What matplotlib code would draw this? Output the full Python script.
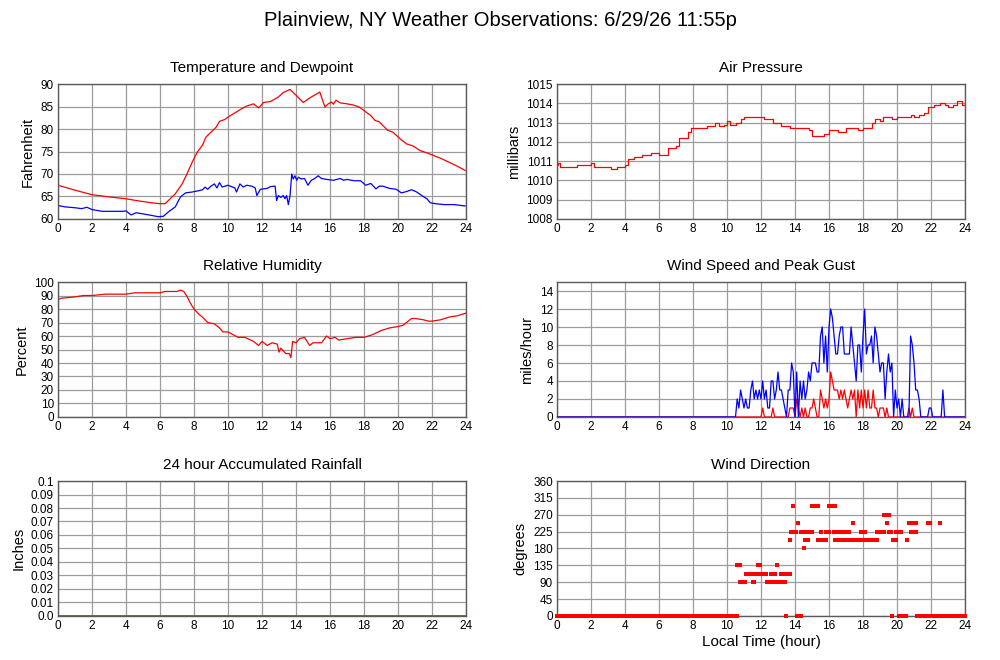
import matplotlib
import matplotlib.pyplot as plt
import numpy as np

matplotlib.use("Agg")

# temperature and dewpoint (F)
temp_t = [0, 1, 2, 3, 4, 4.6, 5.5, 6.0, 6.3, 6.6,
          6.9, 7.3, 7.6, 7.9, 8.2, 8.5, 8.7, 9.0, 9.3, 9.5,
          9.8, 10.1, 10.5, 10.8, 11.1, 11.5, 11.8, 12.1, 12.5, 12.96,
          13.25, 13.65, 13.84, 14.43, 14.8, 15.4, 15.7, 15.9, 16.1, 16.2,
          16.35, 16.6, 17.0, 17.4, 17.7, 18.0, 18.4, 18.65, 18.9, 19.1,
          19.4, 19.7, 20.1, 20.5, 20.9, 21.3, 21.7, 22.1, 22.5, 22.9,
          23.45, 23.95]
temp = [67.5, 66.4, 65.4, 64.9, 64.5, 64.1, 63.6, 63.4, 63.4, 64.5,
        65.6, 67.8, 70.1, 72.7, 74.9, 76.4, 78.2, 79.3, 80.4, 81.7,
        82.1, 82.9, 83.8, 84.5, 85.1, 85.6, 84.7, 85.9, 86.1, 87.1,
        88.1, 88.8, 88.1, 85.9, 86.9, 88.2, 84.9, 85.6, 86.0, 85.5,
        86.4, 85.8, 85.6, 85.3, 84.9, 84.1, 83.0, 81.9, 81.6, 80.8,
        79.7, 79.3, 77.9, 76.7, 76.2, 75.2, 74.7, 74.1, 73.5, 72.8,
        71.8, 70.8]

dew_t = [0, 0.4, 1.0, 1.4, 1.7, 2.0, 2.6, 3.2, 3.8, 4.0,
         4.3, 4.6, 4.9, 5.5, 5.9, 6.2, 6.5, 6.9, 7.2, 7.5,
         7.9, 8.3, 8.5, 8.65, 8.8, 9.0, 9.2, 9.35, 9.5, 9.65,
         10.0, 10.4, 10.5, 10.7, 10.9, 11.1, 11.4, 11.6, 11.7, 11.9,
         12.3, 12.5, 12.77, 12.86, 12.96, 13.1, 13.25, 13.35, 13.45, 13.55,
         13.65, 13.75, 13.84, 13.94, 14.04, 14.14, 14.3, 14.5, 14.7, 14.9,
         15.1, 15.3, 15.5, 15.8, 16.2, 16.6, 16.8, 17.0, 17.4, 17.8,
         18.1, 18.4, 18.7, 18.9, 19.1, 19.5, 19.9, 20.2, 20.5, 20.8,
         21.1, 21.4, 21.7, 21.9, 22.2, 22.7, 23.3, 23.95]
dew = [63.0, 62.7, 62.5, 62.3, 62.6, 62.1, 61.7, 61.7, 61.7, 61.8,
       60.9, 61.4, 61.2, 60.8, 60.5, 60.6, 61.6, 62.7, 64.9, 65.8,
       66.0, 66.3, 66.5, 67.1, 66.6, 67.3, 67.8, 66.9, 68.1, 67.1,
       67.5, 66.9, 66.0, 67.8, 67.1, 67.5, 67.3, 66.9, 65.2, 66.6,
       66.8, 67.2, 67.3, 64.1, 65.2, 64.8, 65.2, 64.5, 65.2, 63.2,
       65.2, 70.0, 68.9, 69.6, 68.6, 69.3, 68.9, 69.0, 67.5, 68.6,
       69.0, 69.6, 69.0, 68.8, 68.6, 69.0, 68.6, 68.8, 68.5, 68.5,
       67.5, 67.9, 66.7, 67.3, 67.3, 66.8, 66.6, 65.8, 66.1, 66.5,
       66.0, 65.2, 64.5, 63.6, 63.4, 63.2, 63.2, 62.9]

# air pressure (mb), level starting at each time
pres_t = [0.0, 0.05, 0.2, 1.2, 2.0, 2.2, 3.2, 3.5, 4.0, 4.2,
          4.5, 5.0, 5.5, 6.0, 6.5, 7.0, 7.2, 7.7, 7.9, 8.8,
          9.3, 9.5, 9.8, 10.0, 10.2, 10.5, 10.8, 11.0, 12.2, 12.7,
          13.2, 13.7, 14.8, 15.0, 15.7, 16.0, 16.5, 17.0, 17.7, 18.0,
          18.5, 18.7, 19.0, 19.2, 19.7, 20.0, 20.8, 21.0, 21.3, 21.6,
          21.8, 22.2, 22.5, 22.8, 23.0, 23.3, 23.5, 23.8, 24.0]
pres = [1010.8, 1010.9, 1010.7, 1010.8, 1010.9, 1010.7, 1010.6, 1010.7, 1010.8, 1011.1,
        1011.2, 1011.3, 1011.4, 1011.3, 1011.7, 1011.8, 1012.2, 1012.5, 1012.7, 1012.8,
        1013.0, 1012.8, 1012.9, 1013.1, 1012.9, 1013.0, 1013.2, 1013.3, 1013.2, 1013.0,
        1012.8, 1012.7, 1012.6, 1012.3, 1012.4, 1012.6, 1012.5, 1012.7, 1012.6, 1012.7,
        1013.0, 1013.2, 1013.1, 1013.3, 1013.2, 1013.3, 1013.4, 1013.3, 1013.4, 1013.5,
        1013.8, 1013.9, 1014.0, 1013.9, 1013.8, 1013.9, 1014.1, 1013.9, 1013.9]

# relative humidity (%)
hum_t = [0, 0.2, 1.0, 1.5, 2.0, 2.8, 4.0, 4.5, 6.0, 6.3,
         7.0, 7.2, 7.4, 7.6, 7.8, 8.0, 8.3, 8.5, 8.8, 9.2,
         9.5, 9.7, 10.0, 10.3, 10.6, 11.0, 11.5, 11.8, 12.0, 12.3,
         12.6, 12.9, 13.0, 13.1, 13.4, 13.6, 13.7, 13.8, 14.0, 14.2,
         14.5, 14.8, 15.0, 15.5, 15.8, 16.0, 16.3, 16.5, 17.0, 17.5,
         18.0, 18.5, 19.0, 19.5, 20.0, 20.3, 20.8, 21.0, 21.5, 21.8,
         22.0, 22.5, 23.0, 23.5, 24.0]
hum = [87, 88, 89, 90, 90, 91, 91, 92, 92, 93,
       93, 94, 93, 89, 84, 80, 76, 74, 70, 69,
       66, 63, 63, 61, 59, 59, 56, 53, 56, 53,
       55, 54, 48, 51, 47, 47, 44, 56, 55, 58,
       59, 53, 55, 55, 60, 58, 59, 57, 58, 59,
       59, 61, 64, 66, 67, 68, 73, 73, 72, 71,
       71, 72, 74, 75, 77]

# wind (mph): calm until 10.5, then samples every 0.1 h up to 22.8
wind_t = [0.0] + [round(10.5 + 0.1 * i, 1) for i in range(124)] + [24.0]
gust = [0,
        0, 2, 1, 3, 2, 1, 2, 1, 1, 3,
        4, 2, 3, 2, 3, 2, 4, 2, 3, 1,
        1, 4, 4, 2, 3, 5, 3, 3, 2, 1,
        0, 3, 3, 6, 5, 0, 5, 0, 4, 2,
        4, 2, 3, 5, 4, 6, 6, 6, 5, 5,
        9, 10, 6, 9, 5, 10, 12, 11, 9, 7,
        7, 9, 10, 10, 7, 7, 7, 7, 10, 8,
        6, 4, 8, 8, 5, 9, 12, 7, 8, 8,
        9, 6, 10, 9, 7, 5, 6, 6, 2, 5,
        7, 5, 6, 0, 3, 1, 2, 0, 2, 0,
        0, 0, 0, 9, 8, 6, 3, 3, 2, 0,
        0, 0, 0, 0, 1, 1, 0, 0, 0, 0,
        0, 0, 3, 0,
        0]
speed = [0,
         0, 0, 0, 0, 0, 0, 0, 0, 0, 0,
         0, 0, 0, 0, 0, 0, 1, 0, 0, 0,
         0, 0, 1, 0, 0, 0, 0, 0, 0, 0,
         0, 0, 1, 1, 1, 0, 2, 1, 0, 1,
         0, 1, 0, 0, 1, 1, 2, 1, 0, 0,
         3, 2, 1, 2, 1, 2, 5, 4, 3, 3,
         3, 2, 3, 2, 3, 2, 1, 2, 3, 2,
         3, 0, 3, 1, 3, 1, 3, 1, 3, 1,
         1, 3, 1, 1, 0, 1, 1, 1, 0, 1,
         0, 0, 0, 0, 0, 0, 0, 0, 0, 0,
         0, 0, 1, 0, 1, 0, 0, 0, 0, 0,
         0, 0, 0, 0, 0, 0, 0, 0, 0, 0,
         0, 0, 0, 0,
         0]

# wind direction (degrees): runs of 5-minute observations
dir_start = [0.00, 10.60, 10.75, 11.10, 11.50, 11.60, 11.80, 12.35, 12.60, 12.95,
             13.00, 13.20, 13.40, 13.45, 13.55, 13.70, 13.75, 13.88, 14.10, 14.20,
             14.35, 14.55, 14.60, 14.75, 15.00, 15.35, 15.50, 15.85, 16.00, 16.30,
             16.35, 16.55, 16.70, 16.95, 17.10, 17.20, 17.40, 17.50, 17.90, 18.10,
             18.80, 19.25, 19.40, 19.55, 19.70, 19.75, 19.95, 20.10, 20.25, 20.60,
             20.70, 20.85, 21.10, 21.20, 21.80, 21.90, 22.55]
dir_end = [10.60, 10.75, 11.10, 11.50, 11.55, 12.30, 11.95, 12.80, 12.85, 12.95,
           13.20, 13.40, 13.40, 13.45, 13.70, 13.70, 14.10, 13.88, 14.35, 14.20,
           14.50, 14.55, 14.75, 15.00, 15.35, 15.85, 15.50, 16.00, 16.30, 16.30,
           16.55, 16.70, 16.95, 17.10, 17.45, 17.20, 17.40, 18.80, 17.90, 18.10,
           19.25, 19.50, 19.40, 19.65, 19.70, 19.90, 20.05, 20.55, 20.25, 20.60,
           20.85, 21.10, 21.10, 21.80, 21.95, 24.00, 22.55]
dir_deg = [0, 135, 90, 112.5, 90, 112.5, 135, 90, 112.5, 135,
           90, 112.5, 90, 0, 112.5, 202.5, 225, 292.5, 0, 247.5,
           225, 180, 202.5, 225, 292.5, 202.5, 225, 225, 292.5, 225,
           202.5, 225, 202.5, 225, 202.5, 225, 247.5, 202.5, 225, 225,
           225, 270, 247.5, 225, 0, 202.5, 225, 0, 225, 202.5,
           247.5, 225, 247.5, 0, 247.5, 0, 247.5]

# 24 hour rainfall (inches)
rain_t = [0, 24]
rain = [0.0, 0.0]

plt.rcParams["font.family"] = ["Liberation Sans", "DejaVu Sans"]

fig = plt.figure(figsize=(10, 6.6), dpi=100)
fig.text(0.5, 1 - 20 / 660, "Plainview, NY Weather Observations: 6/29/26 11:55p",
         ha="center", va="center", fontsize=14.5)

w, h = 0.408, 0.2045
lx, rx = 0.058, 0.557
rows = [0.6682, 0.3682, 0.0667]


def setup(ax, title, ylabel, ylim, yticks, yticklabels=None):
    ax.set_xlim(0, 24)
    ax.set_ylim(*ylim)
    ax.set_xticks(range(0, 25, 2))
    ax.set_yticks(yticks)
    if yticklabels is not None:
        ax.set_yticklabels(yticklabels)
    ax.grid(True, color="#9c9c9c", lw=0.9)
    ax.set_axisbelow(True)
    for s in ax.spines.values():
        s.set_color("#5a5a5a")
        s.set_linewidth(1)
    ax.tick_params(length=0, labelsize=8.5, pad=3)
    ax.set_title(title, fontsize=11, pad=9)
    ax.set_ylabel(ylabel, fontsize=10.5, labelpad=4)


ax = fig.add_axes([lx, rows[0], w, h])
ax.plot(temp_t, temp, color="#ff0000", lw=0.9)
ax.plot(dew_t, dew, color="#0000ff", lw=0.9)
setup(ax, "Temperature and Dewpoint", "Fahrenheit", (60, 90), range(60, 91, 5))

ax = fig.add_axes([rx, rows[0], w, h])
ax.step(pres_t, pres, where="post", color="#ff0000", lw=0.9)
setup(ax, "Air Pressure", "millibars", (1008, 1015), range(1008, 1016))

ax = fig.add_axes([lx, rows[1], w, h])
ax.plot(hum_t, hum, color="#ff0000", lw=0.9)
setup(ax, "Relative Humidity", "Percent", (0, 100), range(0, 101, 10))

ax = fig.add_axes([rx, rows[1], w, h])
ax.plot(wind_t, speed, color="#ff0000", lw=0.9, zorder=3)
ax.plot(wind_t, gust, color="#0000ff", lw=0.9, zorder=3)
setup(ax, "Wind Speed and Peak Gust", "miles/hour", (0, 15), range(0, 15, 2))

ax = fig.add_axes([lx, rows[2], w, h])
ax.plot(rain_t, rain, color="#cc2222", lw=1.2, zorder=3)
rain_ticks = [i / 100 for i in range(11)]
setup(ax, "24 hour Accumulated Rainfall", "Inches", (0, 0.1), rain_ticks,
      ["0.0"] + ["%g" % v for v in rain_ticks[1:]])

ax = fig.add_axes([rx, rows[2], w, h])
dir_x, dir_y = [], []
for s, e, d in zip(dir_start, dir_end, dir_deg):
    n = int(round((e - s) * 12)) + 1
    for k in range(n):
        dir_x.append(s + k / 12)
        dir_y.append(d)
ax.plot(dir_x, dir_y, ls="none", marker="s", ms=2.4, mew=0, color="#ff0000",
        clip_on=False, zorder=3)
setup(ax, "Wind Direction", "degrees", (0, 360), range(0, 361, 45))
ax.set_xlabel("Local Time (hour)", fontsize=11, labelpad=2)

fig.savefig("out.png", dpi=100)
